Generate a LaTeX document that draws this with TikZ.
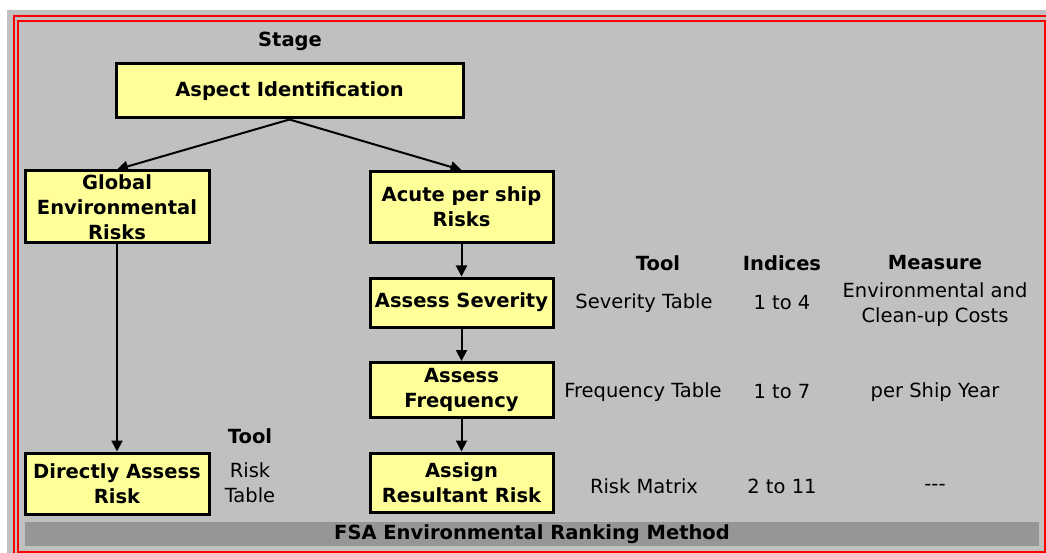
\documentclass[tikz,border=0pt]{standalone}
\usepackage{fontspec}
\setmainfont{DejaVu Sans}
\usetikzlibrary{arrows.meta}
\definecolor{panel}{HTML}{C0C0C0}
\definecolor{boxfill}{HTML}{FFFF99}
\definecolor{barfill}{HTML}{969696}
\newcommand{\basesize}{\fontsize{19.5}{25}\selectfont}
\tikzset{
  stagebox/.style={draw=black, line width=3pt, fill=boxfill, align=center,
    font=\basesize\bfseries, inner sep=0pt},
  flow/.style={line width=2pt, -{Triangle[length=11pt,width=11pt]}},
  head/.style={font=\basesize\bfseries},
  cell/.style={align=center, font=\basesize}
}
\begin{document}
\begin{tikzpicture}[x=1pt,y=-1pt]
      \useasboundingbox (0,0) rectangle (1046,553);
      \fill[white] (0,0) rectangle (1046,553);
      \fill[panel] (7,10) rectangle (1046,553);
      \draw[red, line width=1.5pt] (14,553) -- (14,16) -- (1046,16);
      \draw[red, line width=1.5pt] (18,21) rectangle (1045,552);
      \fill[barfill] (25,522) rectangle (1039,546);
      \node[head] (bar) at (532,534) {FSA Environmental Ranking Method};

      \node[head] (stage) at (290,41) {Stage};
      \node[stagebox, minimum width=347pt, minimum height=54pt] (aspect) at (289.5,91) {Aspect Identification};
      \node[stagebox, minimum width=184pt, minimum height=72pt] (global) at (117,207) {Global\\Environmental\\Risks};
      \node[stagebox, minimum width=183pt, minimum height=71pt] (acute) at (461.5,207) {Acute per ship\\Risks};
      \node[stagebox, minimum width=183pt, minimum height=49pt] (severity) at (461.5,302.5) {Assess Severity};
      \node[stagebox, minimum width=183pt, minimum height=55pt] (frequency) at (461.5,390) {Assess\\Frequency};
      \node[stagebox, minimum width=183pt, minimum height=59pt] (resultant) at (461.5,482.5) {Assign\\Resultant Risk};
      \node[stagebox, minimum width=184pt, minimum height=61pt] (direct) at (117,483.5) {Directly Assess\\Risk};

      \node[head] (tooldirect) at (250,436) {Tool};
      \node[cell] (risktable) at (250,483) {Risk\\Table};

      \node[head] (tool) at (658,263) {Tool};
      \node[head] (indices) at (782,263) {Indices};
      \node[head] (measure) at (935,263) {Measure};
      \node[cell] (sevtool) at (644,303) {Severity Table};
      \node[cell] (sevidx) at (782,303) {1 to 4};
      \node[cell] (sevmeas) at (935,305) {Environmental and\\Clean-up Costs};
      \node[cell] (freqtool) at (643,392) {Frequency Table};
      \node[cell] (freqidx) at (782,392) {1 to 7};
      \node[cell] (freqmeas) at (935,392) {per Ship Year};
      \node[cell] (restool) at (644,486) {Risk Matrix};
      \node[cell] (residx) at (782,486) {2 to 11};
      \node[cell] (resmeas) at (935,487) {-{}-{}-};

      \begin{scope}[flow]
        \draw (aspect.south) to (global.north);
        \draw (aspect.south) to (acute.north);
        \draw (global) to (direct);
        \draw (acute) to (severity);
        \draw (severity) to (frequency);
        \draw (frequency) to (resultant);
      \end{scope}
    \end{tikzpicture}
\end{document}
